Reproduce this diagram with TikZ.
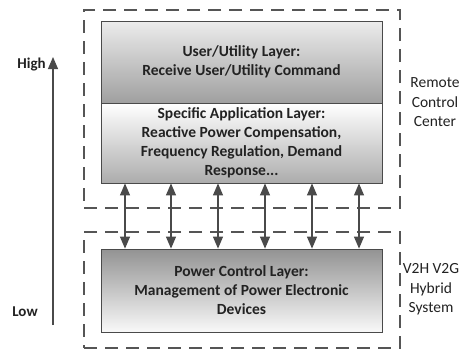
\documentclass[tikz,border=0pt]{standalone}
\usepackage{fontspec}
\setmainfont{Carlito}
\usetikzlibrary{arrows.meta}
\definecolor{edge}{HTML}{4A4A4A}
\definecolor{ink}{HTML}{222222}
\definecolor{dash}{HTML}{555555}
\tikzset{
  x=1bp, y=-1bp,
  layer/.style={draw=edge, line width=0.8bp, rectangle, minimum width=281bp, inner sep=0pt,
    align=center, text=ink, font=\fontsize{15.5bp}{19bp}\selectfont\bfseries},
  group/.style={draw=dash, line width=1.4bp, dash pattern=on 13bp off 8bp, rectangle, inner sep=0pt},
  side/.style={align=center, text=ink, font=\fontsize{15.5bp}{19.5bp}\selectfont},
  axislabel/.style={text=ink, font=\fontsize{15bp}{16bp}\selectfont\bfseries},
  biarrow/.style={draw=edge, line width=1.1bp, {Triangle[width=10bp,length=12bp]}-{Triangle[width=10bp,length=12bp]}},
  uparrow/.style={draw=edge, line width=1.1bp, -{Triangle[width=10bp,length=12bp]}},
}
\begin{document}
\begin{tikzpicture}
\useasboundingbox (0,0) rectangle (466,350);
% dashed groups
\node[group, minimum width=316bp, minimum height=198bp] (upper) at (242,109) {};
\node[group, minimum width=316bp, minimum height=116bp] (lower) at (242,290) {};
% layers
\node[layer, minimum height=82bp, top color=gray!15, bottom color=gray!75] (user) at (241.5,62)
  {User/Utility Layer:\\Receive User/Utility Command};
\node[layer, minimum height=80bp, top color=white, bottom color=gray!65] (app) at (241.5,143)
  {Specific Application Layer:\\Reactive Power Compensation,\\Frequency Regulation, Demand\\Response...};
\node[layer, minimum height=83bp, top color=gray!85, bottom color=gray!5] (power) at (241.5,290.5)
  {Power Control Layer:\\Management of Power Electronic\\Devices};
% side labels
\node[side] (remote) at (435,102.5) {Remote\\Control\\Center};
\node[side] (hybrid) at (431,289.5) {V2H V2G\\Hybrid\\System};
% axis
\node[axislabel] (high) at (31.5,65) {High};
\node[axislabel] (low) at (25,312) {Low};
\coordinate (axbot) at (53,325);
\coordinate (axtop) at (53,57);
\draw[uparrow] (axbot) -- (axtop);
% bidirectional arrows
\foreach \i/\xx in {1/125,2/171,3/218,4/265,5/312,6/359}{
  \coordinate (c\i) at (\xx,0);
  \draw[biarrow] (app.south -| c\i) -- (power.north -| c\i);
}
\end{tikzpicture}
\end{document}
